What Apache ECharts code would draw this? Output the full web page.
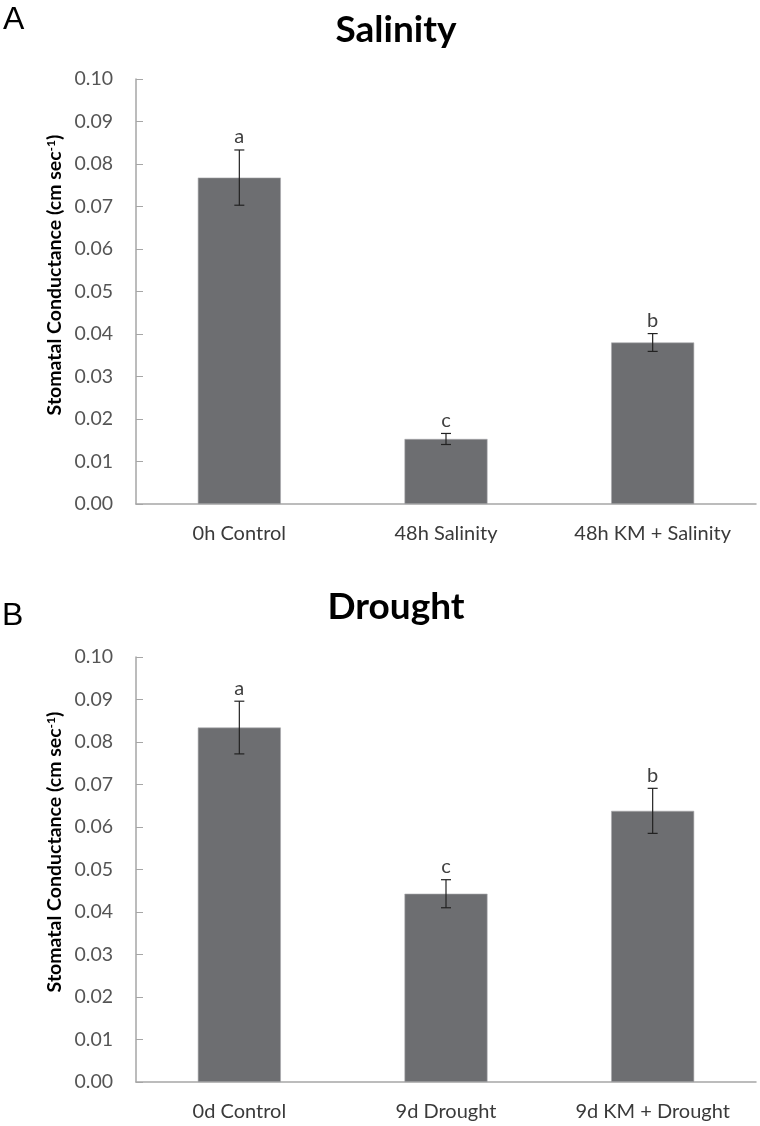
<!DOCTYPE html>
<html>
<head>
<meta charset="utf-8">
<script src="https://cdn.jsdelivr.net/npm/echarts@6/dist/echarts.min.js"></script>
<style>
html,body{margin:0;padding:0;background:#fff;}
#c{width:760px;height:1126px;}
</style>
</head>
<body>
<div id="c"></div>
<script>
var salinityCategories = ['0h Control', '48h Salinity', '48h KM + Salinity'];
var salinityValues = [0.0768, 0.0153, 0.0380];
var salinityErrors = [0.0065, 0.0013, 0.0021];
var salinityLetters = ['a', 'c', 'b'];

var droughtCategories = ['0d Control', '9d Drought', '9d KM + Drought'];
var droughtValues = [0.0834, 0.0443, 0.0638];
var droughtErrors = [0.0062, 0.0033, 0.0053];
var droughtLetters = ['a', 'c', 'b'];

var yTicks = [0.00, 0.01, 0.02, 0.03, 0.04, 0.05, 0.06, 0.07, 0.08, 0.09, 0.10];

var FONT = 'Lato';
var chart = echarts.init(document.getElementById('c'), null, {renderer: 'canvas'});

function errData(vals, errs, letters) {
  return vals.map(function (v, i) { return [i, v, errs[i], letters[i]]; });
}

function renderErr(params, api) {
  var x = api.value(0), v = api.value(1), e = api.value(2);
  var top = api.coord([x, v + e]);
  var bot = api.coord([x, v - e]);
  var hw = 5;
  var style = {stroke: '#222', lineWidth: 1.2};
  return {
    type: 'group',
    children: [
      {type: 'line', shape: {x1: top[0], y1: top[1], x2: bot[0], y2: bot[1]}, style: style},
      {type: 'line', shape: {x1: top[0] - hw, y1: top[1], x2: top[0] + hw, y2: top[1]}, style: style},
      {type: 'line', shape: {x1: bot[0] - hw, y1: bot[1], x2: bot[0] + hw, y2: bot[1]}, style: style},
      {type: 'text', x: top[0], y: top[1] - 3,
        style: {text: api.value(3), fill: '#404040', font: '20px ' + FONT, align: 'center', verticalAlign: 'bottom'}}
    ]
  };
}

function yAxisCfg(idx) {
  return {
    type: 'value', gridIndex: idx, min: 0, max: 0.10, interval: 0.01,
    axisLine: {show: true, lineStyle: {color: '#a6a6a6', width: 1.5}},
    axisTick: {show: true, inside: true, length: 7, lineStyle: {color: '#a6a6a6', width: 1}},
    splitLine: {show: false},
    axisLabel: {
      margin: 23, color: '#555', fontFamily: FONT, fontSize: 19.5,
      formatter: function (v) { return v.toFixed(2); }
    }
  };
}

function xAxisCfg(idx, cats) {
  return {
    type: 'category', gridIndex: idx, data: cats,
    axisLine: {show: true, lineStyle: {color: '#a6a6a6', width: 1.5}},
    axisTick: {show: false},
    axisLabel: {margin: 20, color: '#3a3a3a', fontFamily: FONT, fontSize: 20, interval: 0, hideOverlap: false}
  };
}

var axisName = {
  text: 'Stomatal Conductance (cm sec{sup|-1})',
  font: 'bold 19.5px ' + FONT
};

chart.setOption({
  animation: false,
  backgroundColor: '#fff',
  grid: [
    {left: 136, right: 4, top: 79, height: 425},
    {left: 136, right: 4, top: 657, height: 425}
  ],
  xAxis: [xAxisCfg(0, salinityCategories), xAxisCfg(1, droughtCategories)],
  yAxis: [yAxisCfg(0), yAxisCfg(1)],
  series: [
    {type: 'bar', xAxisIndex: 0, yAxisIndex: 0, data: salinityValues, barWidth: 83,
      itemStyle: {color: '#6d6e71', borderColor: '#a9aaad', borderWidth: 0.6}},
    {type: 'custom', xAxisIndex: 0, yAxisIndex: 0, data: errData(salinityValues, salinityErrors, salinityLetters),
      renderItem: renderErr, z: 5},
    {type: 'bar', xAxisIndex: 1, yAxisIndex: 1, data: droughtValues, barWidth: 83,
      itemStyle: {color: '#6d6e71', borderColor: '#a9aaad', borderWidth: 0.6}},
    {type: 'custom', xAxisIndex: 1, yAxisIndex: 1, data: errData(droughtValues, droughtErrors, droughtLetters),
      renderItem: renderErr, z: 5}
  ],
  graphic: [
    {type: 'text', left: 3, top: 4, style: {text: 'A', font: '32px "Liberation Sans", Arial', fill: '#000'}},
    {type: 'text', left: 2, top: 600, style: {text: 'B', font: '32px "Liberation Sans", Arial', fill: '#000'}},
    {type: 'text', x: 396, y: 30, style: {text: 'Salinity', font: 'bold 37px ' + FONT, fill: '#000', align: 'center', verticalAlign: 'middle'}},
    {type: 'text', x: 396, y: 607, style: {text: 'Drought', font: 'bold 37px ' + FONT, fill: '#000', align: 'center', verticalAlign: 'middle'}},
    {type: 'text', x: 55, y: 275, rotation: Math.PI / 2,
      style: {text: axisName.text, font: axisName.font, fill: '#000', align: 'center', verticalAlign: 'middle',
        rich: {sup: {font: 'bold 12px ' + FONT, verticalAlign: 'top', padding: [0, 0, 8, 0]}}}},
    {type: 'text', x: 55, y: 852, rotation: Math.PI / 2,
      style: {text: axisName.text, font: axisName.font, fill: '#000', align: 'center', verticalAlign: 'middle',
        rich: {sup: {font: 'bold 12px ' + FONT, verticalAlign: 'top', padding: [0, 0, 8, 0]}}}}
  ]
});
</script>
</body>
</html>
